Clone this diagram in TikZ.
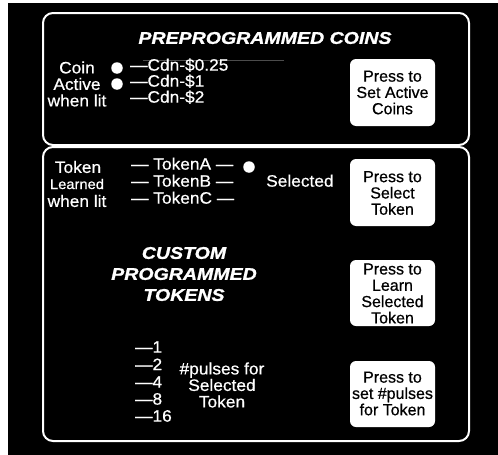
\documentclass[tikz,border=0pt]{standalone}
\usepackage{fontspec}
\setmainfont{Liberation Sans}[FakeStretch=1.05,FakeBold=0.6]
\newfontfamily\btnfont{Liberation Sans}[FakeBold=0.6]
\newfontfamily\titlefont{Liberation Sans}[FakeStretch=1.15,FakeBold=1.2]
\begin{document}
\begin{tikzpicture}[x=1pt,y=-1pt,
  panel/.style={draw=white,line width=2pt,rounded corners=10pt},
  btn/.style={fill=white,rounded corners=6pt},
  btntext/.style={inner sep=0pt,align=center,text=black,font=\btnfont\fontsize{16}{16.3}\selectfont},
  lbl/.style={inner sep=0pt,text=white,font=\fontsize{16.5}{16.5}\selectfont},
  lblc/.style={lbl,align=center},
  title/.style={inner sep=0pt,text=white,align=center,font=\titlefont\fontsize{17}{21}\selectfont\bfseries\itshape},
  led/.style={circle,fill=white,inner sep=0pt,minimum size=11.5pt}]
\useasboundingbox (0,0) rectangle (498,455);
\fill[black] (8,3) rectangle (498,455);
% panels
\draw[panel] (43,13) rectangle (469,145);
\draw[panel] (43,147) rectangle (469,441);
% top panel
\node[title] (t1) at (265,38) {PREPROGRAMMED COINS};
\draw[gray!60!black,line width=0.8pt] (143,60) -- (284,60);
\node[lblc,anchor=center] (coinlbl) at (77,84) {Coin\\Active\\when lit};
\node[led] (d1) at (117,68) {};
\node[led] (d2) at (117,84) {};
\node[lbl,anchor=mid west] (c1) at (130,68) {—Cdn-\$0.25};
\node[lbl,anchor=mid west] (c2) at (130,84) {—Cdn-\$1};
\node[lbl,anchor=mid west] (c3) at (130,100) {—Cdn-\$2};
\fill[btn] (350,59) rectangle (435,126);
\node[btntext] (b1) at (392.5,92.5) {Press to\\Set Active\\Coins};
% bottom panel
\node[lbl,anchor=center] (tk1) at (78,167) {Token};
\node[lbl,anchor=center,font=\fontsize{14}{14}\selectfont] (tk2) at (77,184) {Learned};
\node[lbl,anchor=center] (tk3) at (77,201) {when lit};
\node[lbl,anchor=mid west] (ta) at (131,167) {— TokenA —};
\node[lbl,anchor=mid west] (tb) at (131,184) {— TokenB —};
\node[lbl,anchor=mid west] (tc) at (131,201) {— TokenC —};
\node[led] (d3) at (249,167) {};
\node[lbl,anchor=mid west] (sel) at (266,184) {Selected};
\fill[btn] (350,159) rectangle (435,226);
\node[btntext] (b2) at (392.5,193) {Press to\\Select\\Token};
\node[title] (t2) at (184,274) {CUSTOM\\PROGRAMMED\\TOKENS};
\fill[btn] (350,260) rectangle (435,326);
\node[btntext] (b3) at (392.5,293.5) {Press to\\Learn\\Selected\\Token};
\node[lbl,anchor=mid west] (p1) at (135,350) {—1};
\node[lbl,anchor=mid west] (p2) at (135,367.5) {—2};
\node[lbl,anchor=mid west] (p4) at (135,385) {—4};
\node[lbl,anchor=mid west] (p8) at (135,402) {—8};
\node[lbl,anchor=mid west] (p16) at (135,419) {—16};
\node[lblc,anchor=center] (pl) at (222,385) {\#pulses for\\Selected\\Token};
\fill[btn] (350,361) rectangle (435,427);
\node[btntext] (b4) at (392.5,393.5) {Press to\\set \#pulses\\for Token};
\end{tikzpicture}
\end{document}
